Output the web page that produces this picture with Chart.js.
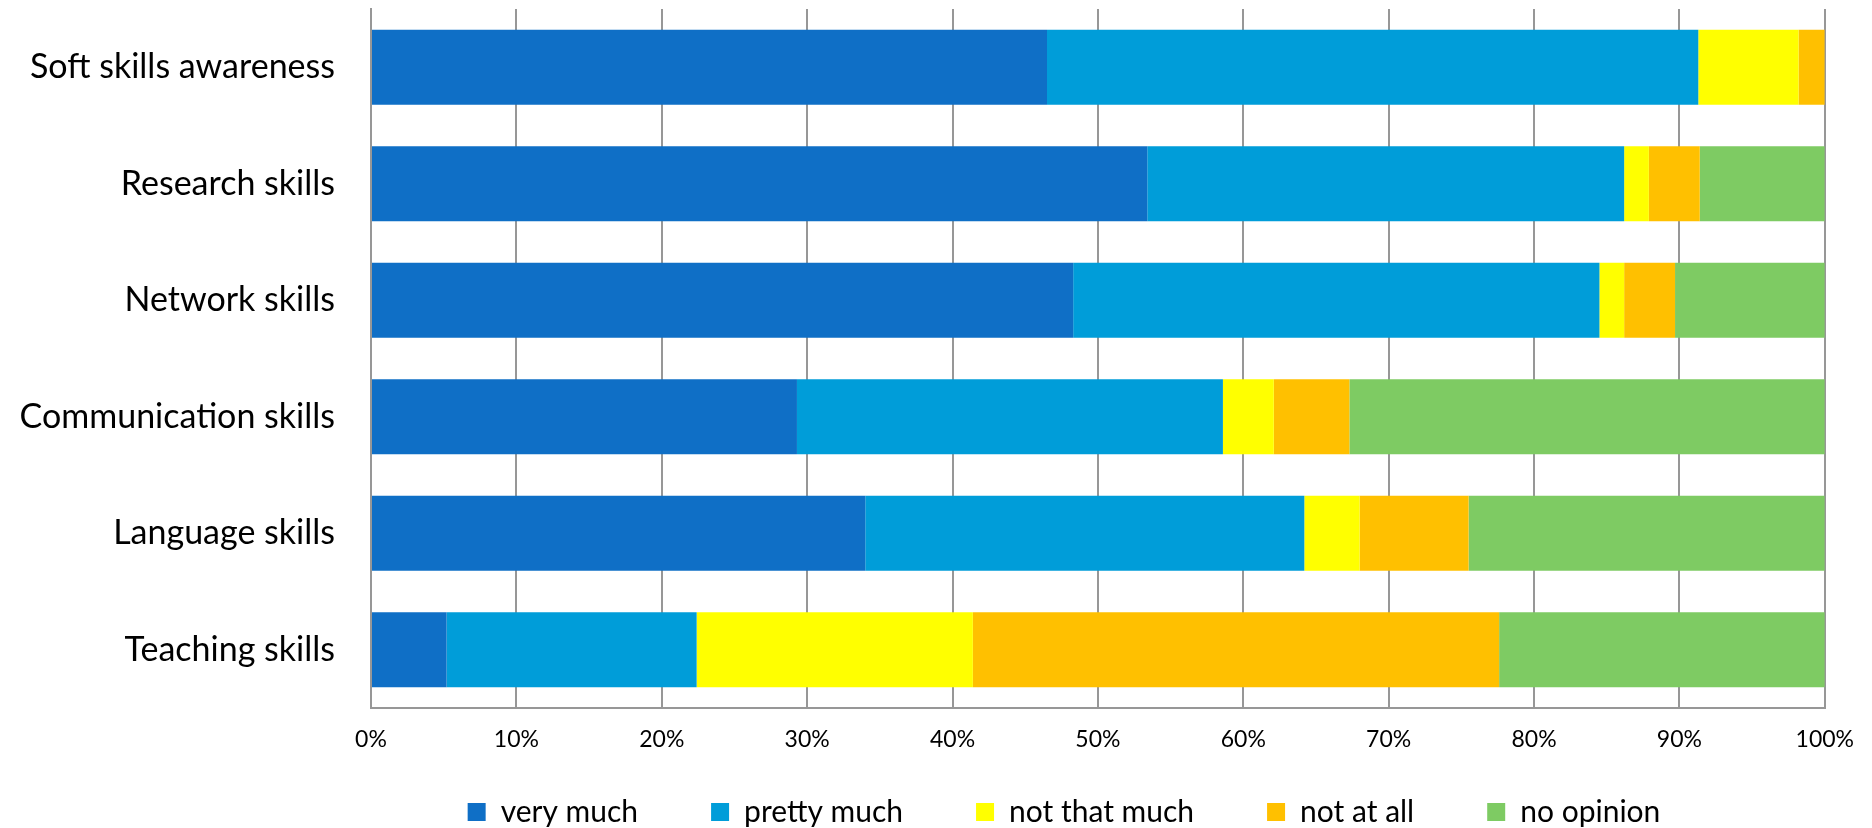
<!DOCTYPE html>
<html>
<head>
<meta charset="utf-8">
<script src="https://cdn.jsdelivr.net/npm/chart.js@4.4.1/dist/chart.umd.min.js"></script>
<style>
  html, body { margin: 0; padding: 0; background: #fff; }
</style>
</head>
<body>
<canvas id="skills-chart" width="1872" height="828"></canvas>
<script>
// categories, top to bottom
let skillLabels = ["Soft skills awareness", "Research skills", "Network skills",
                   "Communication skills", "Language skills", "Teaching skills"];

// percent of answers per category
let veryMuch    = [46.5, 53.4, 48.3, 29.3, 34.0,  5.2];
let prettyMuch  = [44.8, 32.8, 36.2, 29.3, 30.2, 17.2];
let notThatMuch = [ 6.9,  1.7,  1.7,  3.5,  3.8, 19.0];
let notAtAll    = [ 1.8,  3.5,  3.5,  5.2,  7.5, 36.2];
let noOpinion   = [ 0.0,  8.6, 10.3, 32.7, 24.5, 22.4];

let xTicks = [0, 10, 20, 30, 40, 50, 60, 70, 80, 90, 100];

let font = "Lato";
let gridColor = "#979797";

// legend is centred under the bars, not under the whole canvas
let moveLegend = {
    id: "moveLegend",
    afterLayout(chart) {
        let lg = chart.legend;
        let pad = lg.options.labels.padding;
        let size = lg.options.labels.font.size;
        let start = (lg.left + pad + lg.right - lg.lineWidths[0]) / 2;
        let dx = 1064 - (start + (lg.lineWidths[0] - pad) / 2);
        let dy = 812 - (lg.top + pad + size / 2);
        lg.left += dx; lg.right += dx;
        lg.top += dy;
        lg.bottom = chart.height;
    }
};

let ctx = document.getElementById("skills-chart").getContext("2d");

let skillsChart = new Chart(ctx, {
    type: "bar",
    data: {
        labels: skillLabels,
        datasets: [
            { label: "very much",     data: veryMuch,    backgroundColor: "#0F6FC6" },
            { label: "pretty much",   data: prettyMuch,  backgroundColor: "#009DD9" },
            { label: "not that much", data: notThatMuch, backgroundColor: "#FFFF00" },
            { label: "not at all",    data: notAtAll,    backgroundColor: "#FFC000" },
            { label: "no opinion",    data: noOpinion,   backgroundColor: "#7ECB63" }
        ]
    },
    options: {
        indexAxis: "y",
        responsive: false,
        animation: false,
        devicePixelRatio: 1,
        datasets: {
            bar: { borderWidth: 0, barPercentage: 0.644, categoryPercentage: 1.0 }
        },
        layout: { padding: { top: 9, right: 45, left: 0, bottom: 0 } },
        scales: {
            x: {
                stacked: true,
                min: 0,
                max: 100,
                afterBuildTicks: s => { s.ticks = xTicks.map(v => ({ value: v })); },
                afterFit: s => { s.height = 60; },
                grid: { color: gridColor, lineWidth: 2, drawTicks: false },
                border: { color: gridColor, width: 2 },
                ticks: {
                    padding: 18,
                    color: "#000",
                    font: { family: font, size: 23 },
                    callback: v => v + "%"
                }
            },
            y: {
                stacked: true,
                afterFit: s => { s.width = 371; s.paddingTop = 0; s.paddingBottom = 0; },
                grid: { display: false },
                border: { color: gridColor, width: 2 },
                ticks: {
                    padding: 28,
                    color: "#000",
                    font: { family: font, size: 34 }
                }
            }
        },
        plugins: {
            tooltip: { enabled: false },
            legend: {
                position: "bottom",
                maxHeight: 60,
                labels: {
                    boxWidth: 18,
                    boxHeight: 18,
                    padding: 73,
                    color: "#000",
                    font: { family: font, size: 30 }
                }
            }
        }
    },
    plugins: [moveLegend]
});
</script>
</body>
</html>
